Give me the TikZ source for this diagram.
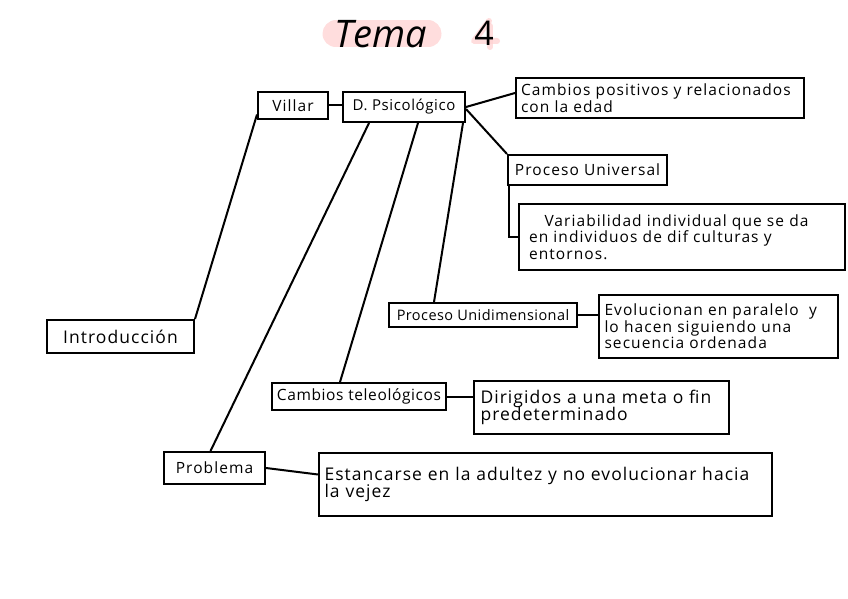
\documentclass[tikz,border=0pt]{standalone}
\usepackage{fontspec}
\setmainfont{Open Sans}
\begin{document}
\begin{tikzpicture}[x=1pt,y=-1pt,
  box/.style={draw, line width=2pt, inner sep=0pt, font=\fontsize{15.5}{16.5}\selectfont\addfontfeatures{LetterSpace=7}, align=left},
  small/.style={font=\fontsize{14.5}{15.5}\selectfont\addfontfeatures{LetterSpace=3}},
  wide/.style={font=\fontsize{17.5}{17.5}\selectfont\addfontfeatures{LetterSpace=6}},
  link/.style={line width=2pt},
  hl/.style={line width=27pt, draw=pink!90!red!55, opacity=0.75, line cap=round}]
\useasboundingbox (0,0) rectangle (848,599);
% title highlight
\draw[hl] (336,34) -- (428,34);
\draw[hl, line width=6pt, line join=round] (489,21) -- (474,41) -- (497,41);
\draw[hl, line width=6pt] (490,26) -- (490,47);
\node (tema) at (381,34) {\fontsize{38}{40}\selectfont\itshape Tema};
\node (four) at (484,33) {\fontsize{34}{36}\selectfont 4};
% boxes
\node[box, minimum width=70, minimum height=27] (villar) at (293,105.5) {Villar};
\node[box, font=\fontsize{15}{16}\selectfont\addfontfeatures{LetterSpace=4}, minimum width=122, minimum height=30] (dpsi) at (404,107) {D. Psicológico};
\node[box, minimum width=288, minimum height=40, text width=278] (cpos) at (660,98) {Cambios positivos y relacionados\\ con la edad};
\node[box, minimum width=159, minimum height=30] (pu) at (587.5,170) {Proceso Universal};
\node[box, minimum width=326, minimum height=66, text width=306] (var) at (682,237) {\hspace*{1em}Variabilidad individual que se da\\en individuos de dif culturas y\\entornos.};
\node[box, small, minimum width=188, minimum height=24] (puni) at (483,315) {Proceso Unidimensional};
\node[box, minimum width=239, minimum height=63, text width=228] (evo) at (718.5,326.5) {Evolucionan en paralelo \ y\\lo hacen siguiendo una\\secuencia ordenada};
\node[box, font=\fontsize{15.5}{16.5}\selectfont\addfontfeatures{LetterSpace=4}, minimum width=174, minimum height=27] (ctel) at (359,396.5) {Cambios teleológicos};
\node[box, wide, minimum width=255, minimum height=53, text width=242] (dir) at (601.5,407.5) {Dirigidos a una meta o fin\\predeterminado};
\node[box, minimum width=101, minimum height=32] (prob) at (214.5,468) {Problema};
\node[box, wide, minimum width=453, minimum height=63, text width=442] (est) at (545.5,484.5) {Estancarse en la adultez y no evolucionar hacia\\la vejez};
\node[box, wide, minimum width=147, minimum height=33] (intro) at (120.5,336.5) {Introducción};
% connectors
\draw[link] (villar.east) -- (villar.east -| dpsi.west);
\draw[link] (dpsi.east) -- ([yshift=5pt]cpos.west);
\draw[link] ([yshift=-2pt]dpsi.east) -- (pu.north west);
\draw[link] ([xshift=2pt]pu.south west) |- (var.west);
\draw[link] ([xshift=-3pt]dpsi.south east) -- ([xshift=46pt]puni.north west);
\draw[link] ([xshift=14pt]dpsi.south) -- ([xshift=-19pt]ctel.north);
\draw[link] ([xshift=-35pt]dpsi.south) -- ([xshift=-4pt]prob.north);
\draw[link] ([yshift=-9pt]villar.west) -- (intro.north east);
\draw[link] (puni.east) -- (puni.east -| evo.west);
\draw[link] (ctel.east) -- (ctel.east -| dir.west);
\draw[link] (prob.east) -- ([yshift=10pt]est.west);
\end{tikzpicture}
\end{document}
